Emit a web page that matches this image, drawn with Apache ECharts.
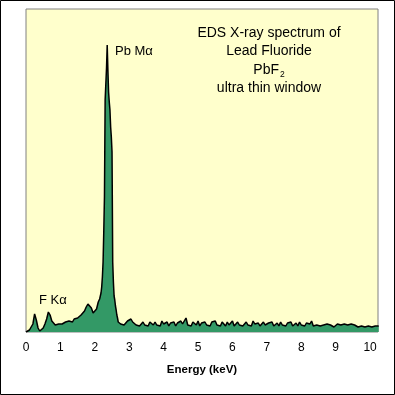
<!DOCTYPE html>
<html>
<head>
<meta charset="utf-8">
<script src="https://cdn.jsdelivr.net/npm/echarts@6/dist/echarts.min.js"></script>
<style>
html,body{margin:0;padding:0;background:#fff;}
#c{width:395px;height:395px;}
</style>
</head>
<body>
<div id="c"></div>
<script>
// Tick labels of the energy axis (keV)
var xTicks = [0, 1, 2, 3, 4, 5, 6, 7, 8, 9, 10];
// Annotation texts
var titleLines = ['EDS X-ray spectrum of', 'Lead Fluoride', 'ultra thin window'];
var formulaMain = 'PbF';
var formulaSub = '2';
var peakLabels = ['Pb M\u03b1', 'F K\u03b1'];

// Spectrum: low-energy part, 0.00 - 2.10 keV, [keV, counts]
var lowPart = [
  [0.00,0],[0.05,1],[0.10,2],[0.15,3],[0.20,8],[0.25,18],[0.30,12],[0.35,4],[0.40,1],[0.45,2],
  [0.50,4],[0.55,8],[0.60,13],[0.65,20],[0.70,17],[0.75,11],[0.80,9],[0.85,7],[0.90,9],[0.95,8],
  [1.00,10],[1.05,8],[1.10,9],[1.15,10],[1.20,8],[1.25,11],[1.30,13],[1.35,10],[1.40,13],[1.45,12],
  [1.50,14],[1.55,15],[1.60,17],[1.65,18],[1.70,21],[1.75,25],[1.80,28],[1.85,29],[1.90,24],[1.95,19],
  [2.00,20],[2.05,23],[2.10,30]
];
// Pb M peak region, 2.12 - 2.70 keV
var peakPart = [
  [2.12,32],[2.14,33],[2.16,36],[2.18,39],[2.20,45],[2.22,55],[2.24,70],[2.26,100],[2.28,135],
  [2.30,232],[2.32,248],[2.34,264],[2.36,287],[2.38,262],[2.40,240],[2.42,230],[2.44,222],
  [2.46,205],[2.48,195],[2.50,180],[2.52,70],[2.54,50],[2.56,36],[2.58,32],[2.60,26],[2.62,22],
  [2.64,17],[2.66,14],[2.68,10],[2.70,9]
];
// Background part, 2.75 - 10.25 keV (0.05 keV steps)
var highCounts = [
  8,6,7,9,11,12,13,10,8,7,
  9,6,8,10,7,9,6,10,8,7,
  10,7,9,6,11,8,7,10,6,9,
  8,10,6,9,7,11,8,6,14,7,
  9,6,10,8,7,11,6,9,8,10,
  7,9,6,10,8,11,7,9,6,10,
  8,6,10,7,9,11,6,8,10,7,
  9,6,8,10,7,9,6,11,8,7,
  9,6,8,10,7,6,9,8,10,6,
  8,9,6,10,7,8,6,9,7,10,
  6,8,9,6,10,7,8,6,9,7,
  8,11,6,8,7,9,6,8,7,5,
  8,6,7,9,5,7,8,6,7,5,
  8,6,7,5,8,6,7,9,5,7,
  6,8,5,7,6,8,5,7,6,8,
  6
];
var highEnergies = [
  2.75,2.80,2.85,2.90,2.95,3.00,3.05,3.10,3.15,3.20,
  3.25,3.30,3.35,3.40,3.45,3.50,3.55,3.60,3.65,3.70,
  3.75,3.80,3.85,3.90,3.95,4.00,4.05,4.10,4.15,4.20,
  4.25,4.30,4.35,4.40,4.45,4.50,4.55,4.60,4.65,4.70,
  4.75,4.80,4.85,4.90,4.95,5.00,5.05,5.10,5.15,5.20,
  5.25,5.30,5.35,5.40,5.45,5.50,5.55,5.60,5.65,5.70,
  5.75,5.80,5.85,5.90,5.95,6.00,6.05,6.10,6.15,6.20,
  6.25,6.30,6.35,6.40,6.45,6.50,6.55,6.60,6.65,6.70,
  6.75,6.80,6.85,6.90,6.95,7.00,7.05,7.10,7.15,7.20,
  7.25,7.30,7.35,7.40,7.45,7.50,7.55,7.60,7.65,7.70,
  7.75,7.80,7.85,7.90,7.95,8.00,8.05,8.10,8.15,8.20,
  8.25,8.30,8.35,8.40,8.45,8.50,8.55,8.60,8.65,8.70,
  8.75,8.80,8.85,8.90,8.95,9.00,9.05,9.10,9.15,9.20,
  9.25,9.30,9.35,9.40,9.45,9.50,9.55,9.60,9.65,9.70,
  9.75,9.80,9.85,9.90,9.95,10.00,10.05,10.10,10.15,10.20,
  10.25
];

var spectrum = lowPart.concat(peakPart);
for (var i = 0; i < highCounts.length; i++) {
  spectrum.push([highEnergies[i], highCounts[i]]);
}

var FONT = 'Arial, "Liberation Sans", sans-serif';
var chart = echarts.init(document.getElementById('c'), null, {renderer: 'canvas'});

function txt(text, x, y, size, align) {
  return {type: 'text', x: x, y: y, z: 20, style: {
    text: text, font: size + 'px ' + FONT, fill: '#000',
    align: align, verticalAlign: 'middle', textAlign: align, textVerticalAlign: 'middle'
  }};
}

chart.setOption({
  animation: false,
  backgroundColor: '#ffffff',
  grid: {
    left: 26, right: 17, top: 9, bottom: 63,
    show: true, backgroundColor: '#FFFFCC', borderColor: '#808080', borderWidth: 1
  },
  xAxis: {
    type: 'value', min: 0, max: 10.23, interval: 1,
    axisLine: {show: false}, axisTick: {show: false}, splitLine: {show: false},
    axisLabel: {
      color: '#000', fontSize: 12, fontFamily: FONT, margin: 10,
      showMaxLabel: false,
      formatter: function (v) { return xTicks.indexOf(v) >= 0 ? String(v) : ''; }
    },
    name: 'Energy (keV)', nameLocation: 'middle', nameGap: 32,
    nameTextStyle: {color: '#000', fontSize: 11.5, fontWeight: 'bold', fontFamily: FONT}
  },
  yAxis: {
    type: 'value', min: 0, max: 323, show: false, splitLine: {show: false}
  },
  series: [{
    type: 'line', data: spectrum, showSymbol: false, smooth: false,
    lineStyle: {color: '#000', width: 1.5},
    areaStyle: {color: '#339966', opacity: 1},
    z: 3
  }],
  graphic: [
    txt(titleLines[0], 269, 33.5, 14, 'center'),
    txt(titleLines[1], 269, 51.5, 14, 'center'),
    {type: 'text', x: 269, y: 70, z: 20, style: {
      text: '{m|' + formulaMain + '}{s|' + formulaSub + '}',
      align: 'center', verticalAlign: 'middle', textAlign: 'center', textVerticalAlign: 'middle',
      fill: '#000',
      rich: {
        m: {fontSize: 14, fontFamily: FONT, color: '#000', lineHeight: 14},
        s: {fontSize: 8.5, fontFamily: FONT, color: '#000', lineHeight: 8.5, padding: [9, 0, 0, 1]}
      }
    }},
    txt(titleLines[2], 269, 88.5, 14, 'center'),
    txt(peakLabels[0], 115, 51, 13, 'left'),
    txt(peakLabels[1], 39, 300, 13, 'left'),
    {type: 'rect', shape: {x: 0.5, y: 0.5, width: 394, height: 394}, style: {fill: 'none', stroke: '#000', lineWidth: 1}, z: 10}
  ]
});
</script>
</body>
</html>
